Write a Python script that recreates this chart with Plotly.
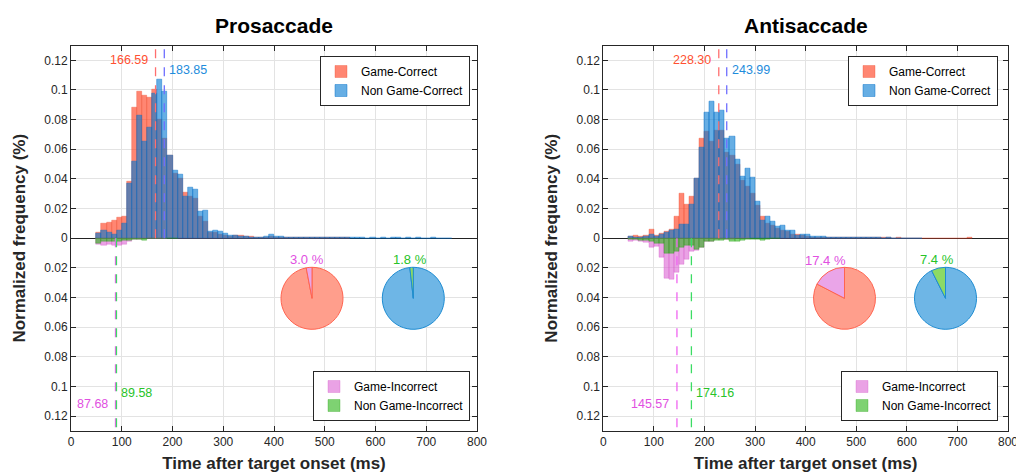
import numpy as np
import plotly.graph_objects as go

W, H = 1016, 473
FONT = "Liberation Sans"

# ---------------- DATA ----------------
panel_titles = ["Prosaccade", "Antisaccade"]
bin_start = 50      # ms, left edge of first bin
bin_width = 10      # ms

# Prosaccade histograms (normalized frequency)
pro_game_correct = [0.004, 0.010, 0.0105, 0.012, 0.014, 0.0145, 0.038, 0.088, 0.099, 0.096,
                    0.095, 0.100, 0.080, 0.067, 0.056, 0.044, 0.040, 0.031, 0.028, 0.027,
                    0.0145, 0.011, 0.004, 0.0036, 0.0025, 0.002, 0.0015, 0.002, 0.002, 0.0012,
                    0.001, 0.0008, 0.0006, 0.0008, 0.001, 0.0008, 0.0005, 0.0005, 0.0004, 0.0004,
                    0.0003, 0.0004, 0.0003, 0.0003, 0.0002, 0.0003, 0.0002, 0.0003, 0.0002, 0.0002]
pro_non_game_correct = [0.003, 0.005, 0.0037, 0.0023, 0.0055, 0.010, 0.037, 0.052, 0.083, 0.065,
                        0.075, 0.0975, 0.107, 0.099, 0.056, 0.0455, 0.043, 0.028, 0.034, 0.033,
                        0.018, 0.0185, 0.0045, 0.005, 0.0043, 0.003, 0.002, 0.002, 0.0015, 0.001,
                        0.0008, 0.0006, 0.0008, 0.001, 0.0022, 0.0015, 0.001, 0.0006, 0.0005, 0.0004,
                        0.0005, 0.0003, 0.0004, 0.0003, 0.0003, 0.0002, 0.0003, 0.0002, 0.0002, 0.0003,
                        0.0002, 0.0002, 0.0002, 0.0001, 0.0002, 0.0001, 0.0002, 0.0001, 0.0002, 0.0002,
                        0.0001, 0.0002, 0.0001, 0.0002, 0.0001, 0.0001, 0.0002, 0.0001, 0.0001, 0.0001]
pro_game_incorrect = [0.0045, 0.005, 0.0043, 0.005, 0.005, 0.004, 0.002, 0.001, 0.0008, 0.0005,
                      0.0005, 0.0003, 0.0002, 0.0002]
pro_non_game_incorrect = [0.0036, 0.0025, 0.002, 0.0025, 0.002, 0.0015, 0.0015, 0.001, 0.0008, 0.0015,
                          0.0005, 0.0005, 0.0003, 0.0002, 0.0002, 0.0001]

# Antisaccade histograms (normalized frequency)
anti_game_correct = [0.0014, 0.0016, 0.001, 0.002, 0.006, 0.002, 0.003, 0.0043, 0.006, 0.015,
                     0.030, 0.023, 0.028, 0.040, 0.067, 0.072, 0.065, 0.073, 0.073, 0.058,
                     0.056, 0.050, 0.039, 0.035, 0.030, 0.022, 0.0145, 0.010, 0.0088, 0.0065,
                     0.0054, 0.0043, 0.0027, 0.0027, 0.0018, 0.001, 0.0008, 0.0008, 0.0006, 0.0005,
                     0.0008, 0.0006, 0.0008, 0.0005, 0.0004, 0.0003, 0.0004, 0.0003, 0.0002, 0.0003,
                     0.0002, 0.0002, 0.0001, 0.0002, 0.0001, 0.0001, 0.0001, 0.0001, 0.0001, 0.0001,
                     0.0001, 0.0001, 0.0001, 0.0001, 0.0001, 0.0001, 0.0001, 0.0002]
anti_non_game_correct = [0.001, 0.0008, 0.0008, 0.0014, 0.0027, 0.0014, 0.0023, 0.0036, 0.005, 0.006,
                         0.009, 0.009, 0.0225, 0.040, 0.061, 0.085, 0.0925, 0.085, 0.086, 0.0675,
                         0.0686, 0.053, 0.0415, 0.047, 0.041, 0.025, 0.012, 0.0145, 0.011, 0.008,
                         0.0088, 0.005, 0.0054, 0.0018, 0.0027, 0.0027, 0.001, 0.001, 0.0014, 0.0008,
                         0.0006, 0.0005, 0.0004, 0.0005, 0.0003, 0.0004, 0.0002, 0.0003, 0.0002, 0.0002,
                         0.0001, 0.0002, 0.0001, 0.0001, 0.0001, 0.0001, 0.0001, 0.0001]
anti_game_incorrect = [0.002, 0.0014, 0.0025, 0.003, 0.006, 0.0055, 0.013, 0.027, 0.0277, 0.023,
                       0.018, 0.0145, 0.0086, 0.008, 0.006, 0.0025, 0.002, 0.001, 0.001, 0.0008,
                       0.0008, 0.0005, 0.0003, 0.0002]
anti_non_game_incorrect = [0.001, 0.0008, 0.0014, 0.0015, 0.0025, 0.0036, 0.0036, 0.010, 0.010, 0.009,
                           0.006, 0.005, 0.005, 0.0075, 0.006, 0.0025, 0.002, 0.0016, 0.0015, 0.001,
                           0.002, 0.002, 0.0015, 0.001, 0.001, 0.0008, 0.0015, 0.001, 0.0005, 0.0004]

# means (ms): [game-correct, non-game-correct, game-incorrect, non-game-incorrect]
pro_means = [166.59, 183.85, 87.68, 89.58]
anti_means = [228.30, 243.99, 145.57, 174.16]

# incorrect percentages shown in pies
game_incorrect_pct = [3.0, 17.4]
non_game_incorrect_pct = [1.8, 7.4]

series_names = ["Game-Correct", "Non Game-Correct", "Game-Incorrect", "Non Game-Incorrect"]

x_ticks = [0, 100, 200, 300, 400, 500, 600, 700, 800]
y_tickvals = [-0.12, -0.10, -0.08, -0.06, -0.04, -0.02, 0, 0.02, 0.04, 0.06, 0.08, 0.10, 0.12]
y_ticktext = ["0.12", "0.1", "0.08", "0.06", "0.04", "0.02", "0", "0.02", "0.04", "0.06", "0.08", "0.1", "0.12"]

# ---------------- STYLE ----------------
C_RED = "rgba(255,69,38,0.65)"
C_RED_EDGE = "rgba(235,70,40,0.55)"
C_BLUE = "rgba(0,120,210,0.60)"
C_BLUE_EDGE = "rgba(0,110,200,0.75)"
C_PINK = "rgba(220,100,212,0.60)"
C_PINK_EDGE = "rgba(210,90,200,0.55)"
C_GREEN = "rgba(40,180,20,0.60)"
C_GREEN_EDGE = "rgba(40,160,20,0.55)"

LINE_COLORS = ["rgb(255,110,110)", "rgb(110,110,255)", "rgb(240,100,240)", "rgb(60,220,100)"]
TEXT_COLORS = ["rgb(255,80,50)", "rgb(30,140,220)", "rgb(225,80,225)", "rgb(40,195,40)"]
AX_COLOR = "#262626"
GRID = "#e3e3e3"


def px(x):
    return x / W


def py(y):
    return 1 - y / H


def centers(n):
    return bin_start + bin_width * (np.arange(n) + 0.5)


fig = go.Figure()

panels = [
    dict(gc=pro_game_correct, ngc=pro_non_game_correct, gi=pro_game_incorrect,
         ngi=pro_non_game_incorrect, means=pro_means, xa="x", ya="y",
         leg_top="legend", leg_bot="legend2", x0=71.0, x1=477.0),
    dict(gc=anti_game_correct, ngc=anti_non_game_correct, gi=anti_game_incorrect,
         ngi=anti_non_game_incorrect, means=anti_means, xa="x2", ya="y2",
         leg_top="legend3", leg_bot="legend4", x0=603.3, x1=1008.0),
]

for p in panels:
    specs = [
        (p["gc"], 1, C_RED, C_RED_EDGE, series_names[0], p["leg_top"]),
        (p["ngc"], 1, C_BLUE, C_BLUE_EDGE, series_names[1], p["leg_top"]),
        (p["gi"], -1, C_PINK, C_PINK_EDGE, series_names[2], p["leg_bot"]),
        (p["ngi"], -1, C_GREEN, C_GREEN_EDGE, series_names[3], p["leg_bot"]),
    ]
    for vals, sign, col, edge, name, leg in specs:
        v = np.asarray(vals, dtype=float)
        fig.add_trace(go.Bar(
            x=centers(len(v)), y=sign * v, width=bin_width,
            marker=dict(color=col, line=dict(color=edge, width=0.6)),
            name=name, legend=leg, xaxis=p["xa"], yaxis=p["ya"],
            hoverinfo="skip",
        ))

# mean lines and labels
Y_TOP, Y_BOT = 0.13, -0.13
label_y = [0.12, 0.1135, -0.1115, -0.1045]
label_side = ["right", "left", "right", "left"]
for p in panels:
    for i, m in enumerate(p["means"]):
        y_end = Y_TOP if i < 2 else Y_BOT
        fig.add_shape(type="line", xref=p["xa"], yref=p["ya"], x0=m, x1=m, y0=0, y1=y_end,
                      line=dict(color=LINE_COLORS[i], width=1.3, dash="dash"))
        fig.add_annotation(x=m, y=label_y[i], xref=p["xa"], yref=p["ya"],
                           text=f"{m:.2f}", showarrow=False,
                           xanchor=label_side[i], yanchor="middle",
                           xshift=(-6 if label_side[i] == "right" else 3),
                           font=dict(family=FONT, size=12.5, color=TEXT_COLORS[i]))

# pies (incorrect slice drawn last so that, going clockwise from 12 o'clock,
# it ends at 12 o'clock on the upper-left side)
pie_centers_px = [(312.0, 298.3), (413.3, 298.3), (844.5, 298.3), (945.5, 298.3)]
pie_r = 31.0
pie_defs = [
    (game_incorrect_pct[0], ["rgb(255,158,140)", "rgb(234,165,232)"], "rgb(255,100,80)", TEXT_COLORS[2]),
    (non_game_incorrect_pct[0], ["rgb(110,182,230)", "rgb(140,218,100)"], "rgb(30,140,210)", TEXT_COLORS[3]),
    (game_incorrect_pct[1], ["rgb(255,158,140)", "rgb(234,165,232)"], "rgb(255,100,80)", TEXT_COLORS[2]),
    (non_game_incorrect_pct[1], ["rgb(110,182,230)", "rgb(140,218,100)"], "rgb(30,140,210)", TEXT_COLORS[3]),
]
label_offsets = [(-5.3, -38.5), (-3.3, -38.5), (-19.5, -38), (-8.8, -38.5)]
for (cx, cy), (pct, cols, edge, tcol), (dx, dy) in zip(pie_centers_px, pie_defs, label_offsets):
    fig.add_trace(go.Pie(
        values=[100 - pct, pct], sort=False, direction="clockwise", rotation=0,
        marker=dict(colors=cols, line=dict(color=edge, width=1)),
        textinfo="none", hoverinfo="skip", showlegend=False,
        domain=dict(x=[px(cx - pie_r), px(cx + pie_r)], y=[py(cy + pie_r), py(cy - pie_r)]),
    ))
    fig.add_annotation(x=px(cx + dx), y=py(cy + dy), xref="paper", yref="paper",
                       xanchor="center", yanchor="middle",
                       text=f"{pct:.1f} %", showarrow=False,
                       font=dict(family=FONT, size=13, color=tcol))

# titles
for p, t in zip(panels, panel_titles):
    fig.add_annotation(x=px((p["x0"] + p["x1"]) / 2), y=py(25), xref="paper", yref="paper",
                       xanchor="center", yanchor="middle",
                       text=f"<b>{t}</b>", showarrow=False,
                       font=dict(family=FONT, size=21, color="black"))

axis_common = dict(
    showline=True, linecolor=AX_COLOR, linewidth=1, mirror="ticks",
    ticks="inside", ticklen=5, tickcolor=AX_COLOR, tickwidth=1,
    showgrid=True, gridcolor=GRID, gridwidth=1, automargin=False,
    tickfont=dict(family=FONT, size=12, color=AX_COLOR),
)
y_dom = [py(431), py(45.5)]
layout = dict(
    width=W, height=H, margin=dict(l=0, r=0, t=0, b=0, autoexpand=False),
    paper_bgcolor="white", plot_bgcolor="white",
    barmode="overlay", bargap=0,
    font=dict(family=FONT, color=AX_COLOR),
)
for k, p in enumerate(panels):
    sx = "" if k == 0 else "2"
    layout["xaxis" + sx] = dict(
        axis_common, domain=[px(p["x0"]), px(p["x1"])], range=[0, 800],
        tickvals=x_ticks, zeroline=False, anchor="y" + sx, ticklabeloverflow="allow",
        title=dict(text="<b>Time after target onset (ms)</b>", standoff=9,
                   font=dict(family=FONT, size=17, color=AX_COLOR)),
    )
    layout["yaxis" + sx] = dict(
        axis_common, domain=y_dom, range=[-0.13, 0.13], anchor="x" + sx,
        tickvals=y_tickvals, ticktext=y_ticktext,
        zeroline=True, zerolinecolor="#222222", zerolinewidth=1.3,
        title=dict(text="<b>Normalized frequency (%)</b>", standoff=14,
                   font=dict(family=FONT, size=17, color=AX_COLOR)),
    )

leg_common = dict(bgcolor="white", bordercolor=AX_COLOR, borderwidth=1,
                  font=dict(family=FONT, size=12, color="black"),
                  tracegroupgap=0, itemwidth=30, itemclick=False, itemdoubleclick=False)
layout["legend"] = dict(leg_common, x=px(470), xanchor="right", y=py(56), yanchor="top")
layout["legend2"] = dict(leg_common, x=px(470), xanchor="right", y=py(421), yanchor="bottom")
layout["legend3"] = dict(leg_common, x=px(998), xanchor="right", y=py(56), yanchor="top")
layout["legend4"] = dict(leg_common, x=px(998), xanchor="right", y=py(421), yanchor="bottom")

fig.update_layout(**layout)
fig.write_html("out.html", config={"displayModeBar": False},
               post_script="document.body.style.margin='0';")
